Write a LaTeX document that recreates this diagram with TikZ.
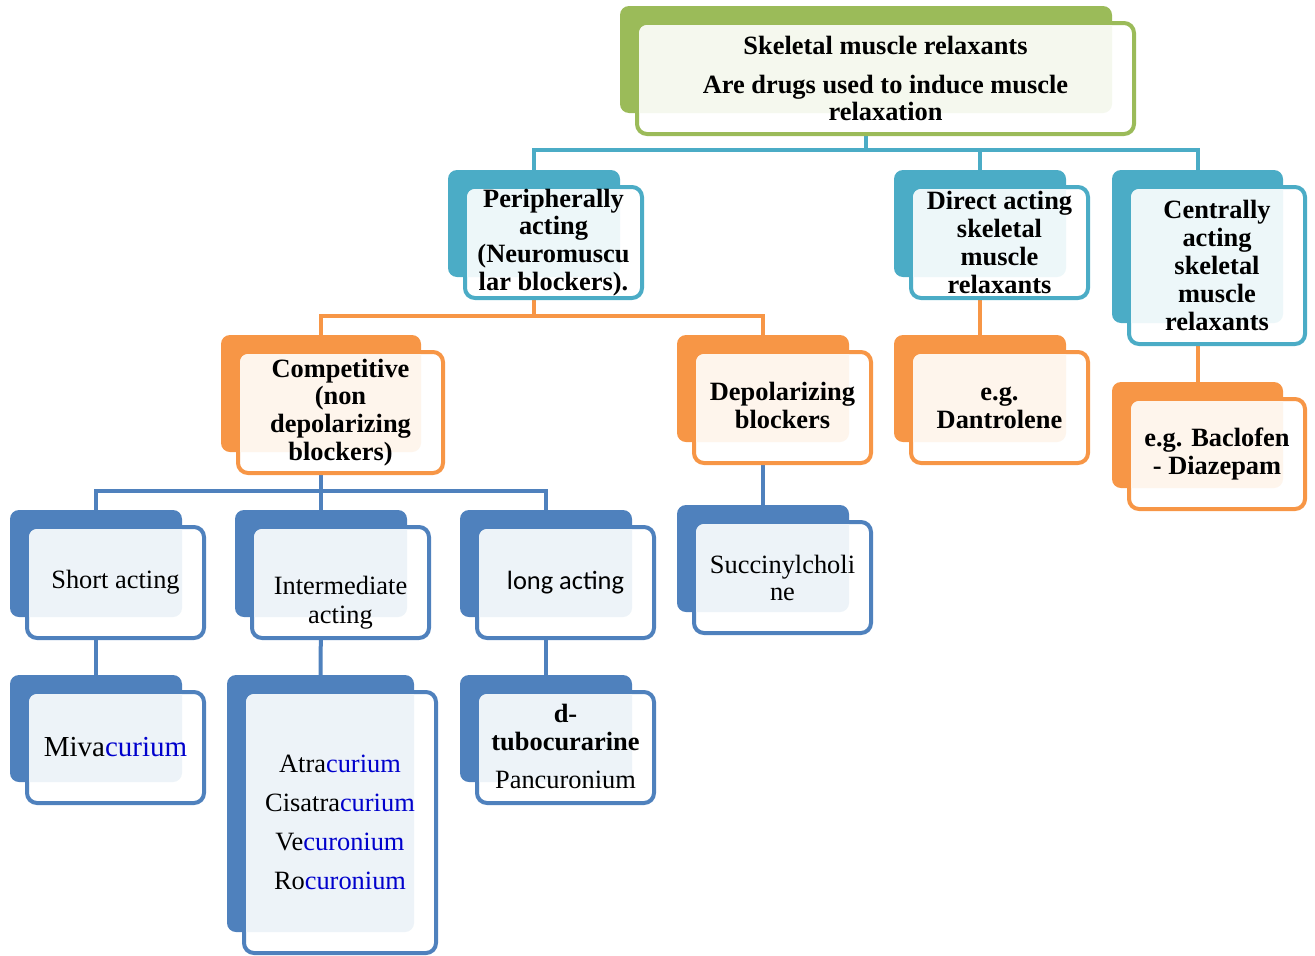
\documentclass[tikz,border=0pt]{standalone}
\usepackage{fontspec}
\setmainfont{Liberation Serif}
\newfontfamily\calfont{Carlito}
\definecolor{cgreen}{HTML}{9BBB59}
\definecolor{cteal}{HTML}{4BACC6}
\definecolor{corange}{HTML}{F79646}
\definecolor{cblue}{HTML}{4F81BD}
\definecolor{ctext}{HTML}{0000CC}
\pgfdeclarelayer{bg}
\pgfsetlayers{bg,main}
\tikzset{
  backbox/.style={fill=#1, rounded corners=9pt, inner sep=0pt, outer sep=0pt},
  frontbox/.style={draw=#1, fill=white, line width=4pt, rounded corners=10pt, inner sep=0pt, outer sep=0pt},
  txt/.style={align=center, inner sep=0pt, text=black},
  bt/.style={font=\fontsize{26.4}{27.8}\selectfont\bfseries},
  rt/.style={font=\fontsize{26.4}{29}\selectfont},
  conn/.style={line width=4pt, draw=#1},
}
\newcommand\smbox[8]{%
  \pgfmathsetmacro\bw{#4-#2}\pgfmathsetmacro\bh{#5-#3}%
  \pgfmathsetmacro\bcx{(#2+#4)/2}\pgfmathsetmacro\bcy{(#3+#5)/2}%
  \node[backbox=#6, minimum width=\bw pt, minimum height=\bh pt] (#1-b) at (\bcx,\bcy) {};
  \node[frontbox=#6, minimum width=\bw pt+5pt, minimum height=\bh pt+4pt] (#1) at (\bcx+19.5,\bcy+19) {};
  \begin{scope}
    \clip[rounded corners=8pt] ([shift={(2pt,-2pt)}]#1.north west) rectangle ([shift={(-2pt,2pt)}]#1.south east);
    \fill[#6!10!white, rounded corners=9pt] (#1-b.north west) rectangle (#1-b.south east);
  \end{scope}
  \node[txt,#7] (#1-t) at (#1.center) {#8};
}
\begin{document}
\begin{tikzpicture}[x=1pt,y=-1pt]
\useasboundingbox (0,0) rectangle (1315,956);
% level 0
\smbox{root}{620}{6}{1112}{113}{cgreen}{bt}{Skeletal muscle relaxants\\[11pt]Are drugs used to induce muscle\\relaxation}
% level 1
\smbox{periph}{448}{170}{620}{277}{cteal}{bt}{Peripherally\\acting\\(Neuromuscu\\lar blockers).}
\smbox{direct}{894}{170}{1066}{277}{cteal}{bt}{Direct acting\\skeletal\\muscle\\relaxants}
\smbox{central}{1112}{170}{1283}{323}{cteal}{bt}{Centrally\\acting\\skeletal\\muscle\\relaxants}
% level 2
\smbox{comp}{221}{335}{421}{452}{corange}{bt}{Competitive\\(non\\depolarizing\\blockers)}
\smbox{depol}{677}{335}{849}{442}{corange}{bt, yshift=2pt}{Depolarizing\\blockers}
\smbox{dant}{894}{335}{1066}{442}{corange}{bt}{e.g.\\Dantrolene}
\smbox{bacl}{1112}{382}{1283}{488}{corange}{bt}{e.g. Baclofen\\- Diazepam}
% level 3
\smbox{short}{10}{510}{182}{617}{cblue}{rt}{Short acting}
\smbox{inter}{235}{510}{407}{617}{cblue}{rt, yshift=-20pt}{Intermediate\\acting}
\smbox{long}{460}{510}{632}{617}{cblue}{font=\fontsize{26.4}{29}\calfont}{long acting}
\smbox{succ}{677}{505}{849}{612}{cblue}{font=\fontsize{26.4}{27}\selectfont}{Succinylcholi\\ne}
% level 4
\smbox{miva}{10}{675}{182}{782}{cblue}{font=\fontsize{29}{32}\selectfont}{Miva\textcolor{ctext}{curium}}
\smbox{atra}{227}{675}{414}{932}{cblue}{font=\fontsize{26.4}{39}\selectfont}{Atra\textcolor{ctext}{curium}\\Cisatra\textcolor{ctext}{curium}\\Ve\textcolor{ctext}{curonium}\\Ro\textcolor{ctext}{curonium}}
\smbox{dtubo}{460}{675}{632}{782}{cblue}{font=\fontsize{26.4}{27.8}\selectfont, yshift=1pt}{\textbf{d-}\\\textbf{tubocurarine}\\[11pt]Pancuronium}
% connectors
\begin{pgfonlayer}{bg}
\draw[conn=cteal] (periph-b.north) -- ++(0,-20) -| (root-b.south);
\draw[conn=cteal] (direct-b.north) -- ++(0,-20) -| (root-b.south);
\draw[conn=cteal] (central-b.north) -- ++(0,-20) -| (root-b.south);
\draw[conn=corange] (comp-b.north) -- ++(0,-19) -| (periph-b.south);
\draw[conn=corange] (depol-b.north) -- ++(0,-19) -| (periph-b.south);
\draw[conn=corange] (dant-b.north) -- (direct-b.south);
\draw[conn=corange] (bacl-b.north) -- (central-b.south);
\draw[conn=cblue] (short-b.north) -- ++(0,-19) -| (comp-b.south);
\draw[conn=cblue] (inter-b.north) -- ++(0,-19) -| (comp-b.south);
\draw[conn=cblue] (long-b.north) -- ++(0,-19) -| (comp-b.south);
\draw[conn=cblue] (succ-b.north) -- (depol-b.south);
\draw[conn=cblue] (miva-b.north) -- (short-b.south);
\draw[conn=cblue] (atra-b.north) -- (inter-b.south);
\draw[conn=cblue] (dtubo-b.north) -- (long-b.south);
\end{pgfonlayer}
\end{tikzpicture}
\end{document}
